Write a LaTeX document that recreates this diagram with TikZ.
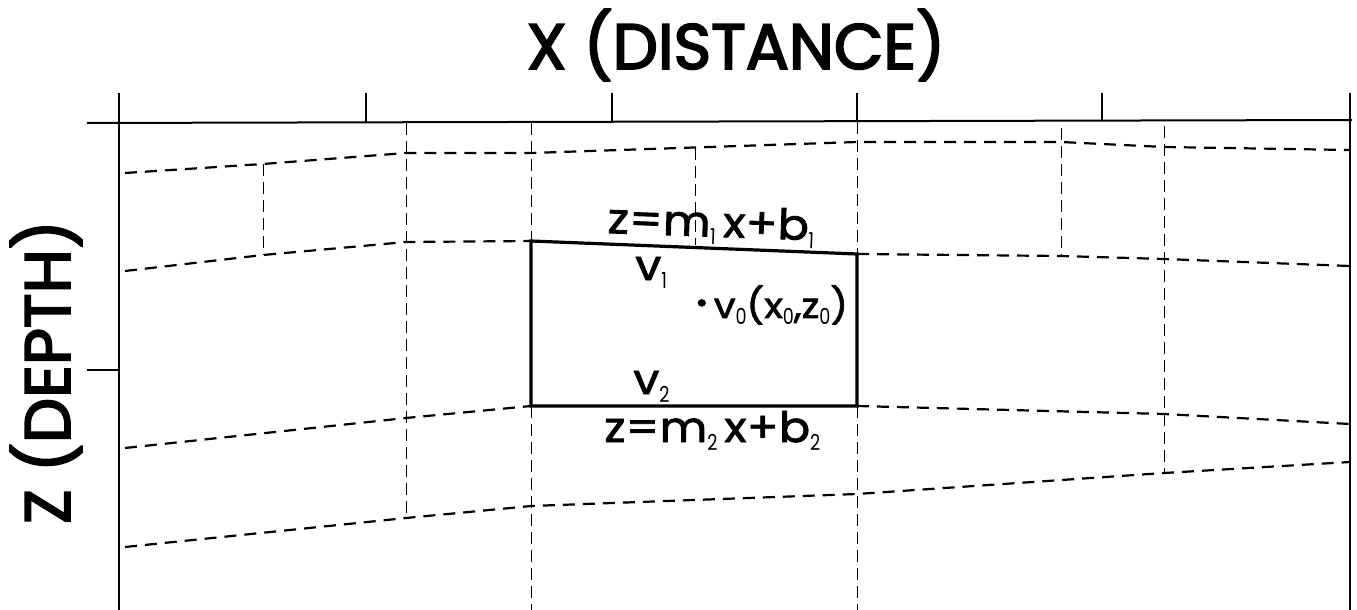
\documentclass[tikz,border=0pt]{standalone}
\usepackage{fontspec}
\setmainfont{Poppins}
\newfontfamily\titlefont{Poppins}[FakeBold=3]
\newfontfamily\lblfont{Poppins}[FakeBold=2, FakeStretch=1.1, LetterSpace=1]
\newfontfamily\subfont{Poppins}[FakeStretch=0.8]
\newcommand{\lowix}[1]{\raisebox{-0.35ex}{\subfont\fontsize{11pt}{11pt}\selectfont #1}}
\tikzset{
  axisline/.style={line width=1pt},
  thinline/.style={line width=0.55pt},
  hdash/.style={line width=1.1pt, dash pattern=on 6pt off 4pt},
  vdash/.style={line width=0.5pt, dash pattern=on 6pt off 3pt},
  boxline/.style={line width=1.6pt, line join=miter},
  lbl/.style={inner sep=0pt, anchor=base west, font=\lblfont\fontsize{21pt}{21pt}\selectfont},
  ttl/.style={inner sep=0pt, font=\titlefont\fontsize{32pt}{32pt}\selectfont},
}
\begin{document}
\begin{tikzpicture}[x=0.5pt,y=-0.5pt]
\useasboundingbox (0,0) rectangle (1357,610);
% axis
\coordinate (a0) at (87,123);
\coordinate (a1) at (1352,120);
\draw[axisline] (a0) -- (a1);
\foreach \n/\x/\y in {t1/366/123,t2/612/123,t3/857/122,t4/1102/121}{
  \coordinate (\n b) at (\x,\y);
  \coordinate (\n t) at (\x,93);
  \draw[thinline] (\n t) -- (\n b);
}
\coordinate (le t) at (119,93); \coordinate (le b) at (119,610);
\coordinate (re t) at (1350,93); \coordinate (re b) at (1350,610);
\draw[thinline] (le t) -- (le b);
\draw[thinline] (re t) -- (re b);
\coordinate (lt0) at (87,370); \coordinate (lt1) at (119,370);
\draw[thinline] (lt0) -- (lt1);
% box corners
\coordinate (B1) at (531,241);
\coordinate (B2) at (857,254);
\coordinate (B3) at (857,406);
\coordinate (B4) at (531,406);
% horizontal dashed lines
\draw[hdash] (125,173) -- (263,164) -- (406,153) -- (531,153) -- (857,142) -- (1061,142) -- (1164,147) -- (1350,150);
\draw[hdash] (125,271) -- (263,255) -- (406,242) -- (B1);
\draw[hdash] (B2) -- (1061,256) -- (1164,259) -- (1350,266);
\draw[hdash] (125,448) -- (406,418) -- (B4);
\draw[hdash] (B3) -- (1164,414) -- (1350,424);
\draw[hdash] (125,547) -- (406,518) -- (531,506) -- (857,494) -- (1164,473) -- (1350,462);
% vertical dashed lines
\draw[vdash] (263,164) -- (263,255);
\draw[vdash] (406,123) -- (406,518);
\draw[vdash] (531,123) -- (B1);
\draw[vdash] (B4) -- (531,610);
\draw[vdash] (695,148) -- (695,245);
\draw[vdash] (857,122) -- (B2);
\draw[vdash] (B3) -- (857,610);
\draw[vdash] (1061,128) -- (1061,256);
\draw[vdash] (1164,126) -- (1164,473);
% box
\draw[boxline] (B1) -- (B2) -- (B3) -- (B4) -- cycle;
% labels
\node[ttl] (title) at (736,45) {X (DISTANCE)};
\node[ttl, rotate=90] (zlab) at (46,372) {Z (DEPTH)};
\node[lbl, rotate=-2] (eq1) at (607,233) {z=m\lowix{1}\,x+b\lowix{1}};
\node[lbl] (v1) at (635,280) {v\lowix{1}};
\node[lbl, font=\lblfont\fontsize{17.5pt}{17.5pt}\selectfont] (v0) at (695,318) {\raisebox{0.3ex}{\fontsize{14pt}{14pt}\selectfont •}\,v\lowix{0}(x\lowix{0},z\lowix{0})};
\node[lbl] (v2) at (633,394) {v\lowix{2}};
\node[lbl] (eq2) at (604,442) {z=m\lowix{2}\,x+b\lowix{2}};
\end{tikzpicture}
\end{document}
